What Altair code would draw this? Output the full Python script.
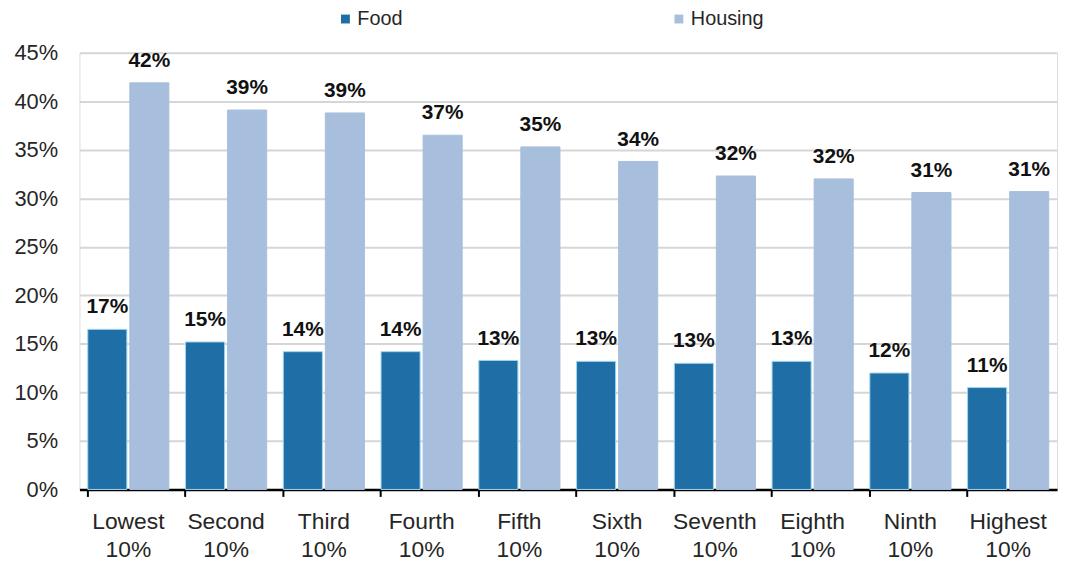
import math
import altair as alt
import pandas as pd

categories = ["Lowest 10%", "Second 10%", "Third 10%", "Fourth 10%", "Fifth 10%",
              "Sixth 10%", "Seventh 10%", "Eighth 10%", "Ninth 10%", "Highest 10%"]
series = ["Food", "Housing"]
food = [16.5, 15.2, 14.2, 14.2, 13.3, 13.2, 13.0, 13.2, 12.0, 10.5]
housing = [41.9, 39.1, 38.8, 36.5, 35.3, 33.8, 32.3, 32.0, 30.6, 30.7]
y_ticks = [0, 5, 10, 15, 20, 25, 30, 35, 40, 45]
colors = ["#1f6fa6", "#a7bedc"]
FONT = "Liberation Sans"

rows = []
for c, f, h in zip(categories, food, housing):
    for s, v in (("Food", f), ("Housing", h)):
        rows.append({"cat": c, "series": s, "value": v,
                     "label": f"{math.floor(v + 0.5)}%"})
df = pd.DataFrame(rows)

x_enc = alt.X("cat:N", sort=categories,
              scale=alt.Scale(paddingInner=0.17, paddingOuter=0.085),
              axis=alt.Axis(title=None, labelAngle=0, labelExpr="split(datum.label, ' ')",
                            labelFontSize=23, labelColor="#262626", labelFont=FONT,
                            labelLineHeight=29, labelPadding=14,
                            domainColor="#000000", domainWidth=2.5,
                            ticks=True, tickColor="#000000", tickWidth=2, tickSize=7,
                            bandPosition=0, grid=False))
xoff = alt.XOffset("series:N", sort=series, scale=alt.Scale(paddingInner=0.07))
y_enc = alt.Y("value:Q", scale=alt.Scale(domain=[0, 45], nice=False),
              axis=alt.Axis(title=None, values=y_ticks, labelExpr="datum.value + '%'",
                            labelFontSize=22, labelColor="#262626", labelFont=FONT,
                            labelPadding=22, ticks=False, domain=False,
                            grid=True, gridColor="#d6d6d6", gridWidth=2))

bars = alt.Chart(df).mark_bar(strokeWidth=1).encode(
    x=x_enc, xOffset=xoff, y=y_enc,
    color=alt.Color("series:N", sort=series,
                    scale=alt.Scale(domain=series, range=colors),
                    legend=alt.Legend(title=None, orient="none", legendX=258, legendY=-44,
                                      direction="horizontal", symbolType="square",
                                      symbolSize=80, symbolStrokeWidth=0,
                                      labelFontSize=20, labelFont=FONT,
                                      labelColor="#262626", labelOffset=2,
                                      columnPadding=268)),
    stroke=alt.Stroke("series:N", scale=alt.Scale(domain=series, range=["#9fd6ee", "#a7bedc"]),
                      legend=None),
)

labels = alt.Chart(df).mark_text(fontWeight="bold", fontSize=21, font=FONT,
                                 color="#111111", baseline="alphabetic", dy=-16).encode(
    x=alt.X("cat:N", sort=categories), xOffset=alt.XOffset("series:N", sort=series),
    y="value:Q", text="label:N")

chart = alt.layer(bars, labels).properties(
    width=985, height=440,
    autosize=alt.AutoSizeParams(type="none"),
    padding={"left": 72, "top": 43, "right": 5, "bottom": 74},
).configure_view(stroke=None).configure(background="#ffffff")

chart.save("out.html", embed_options={"renderer": "svg", "actions": False})
